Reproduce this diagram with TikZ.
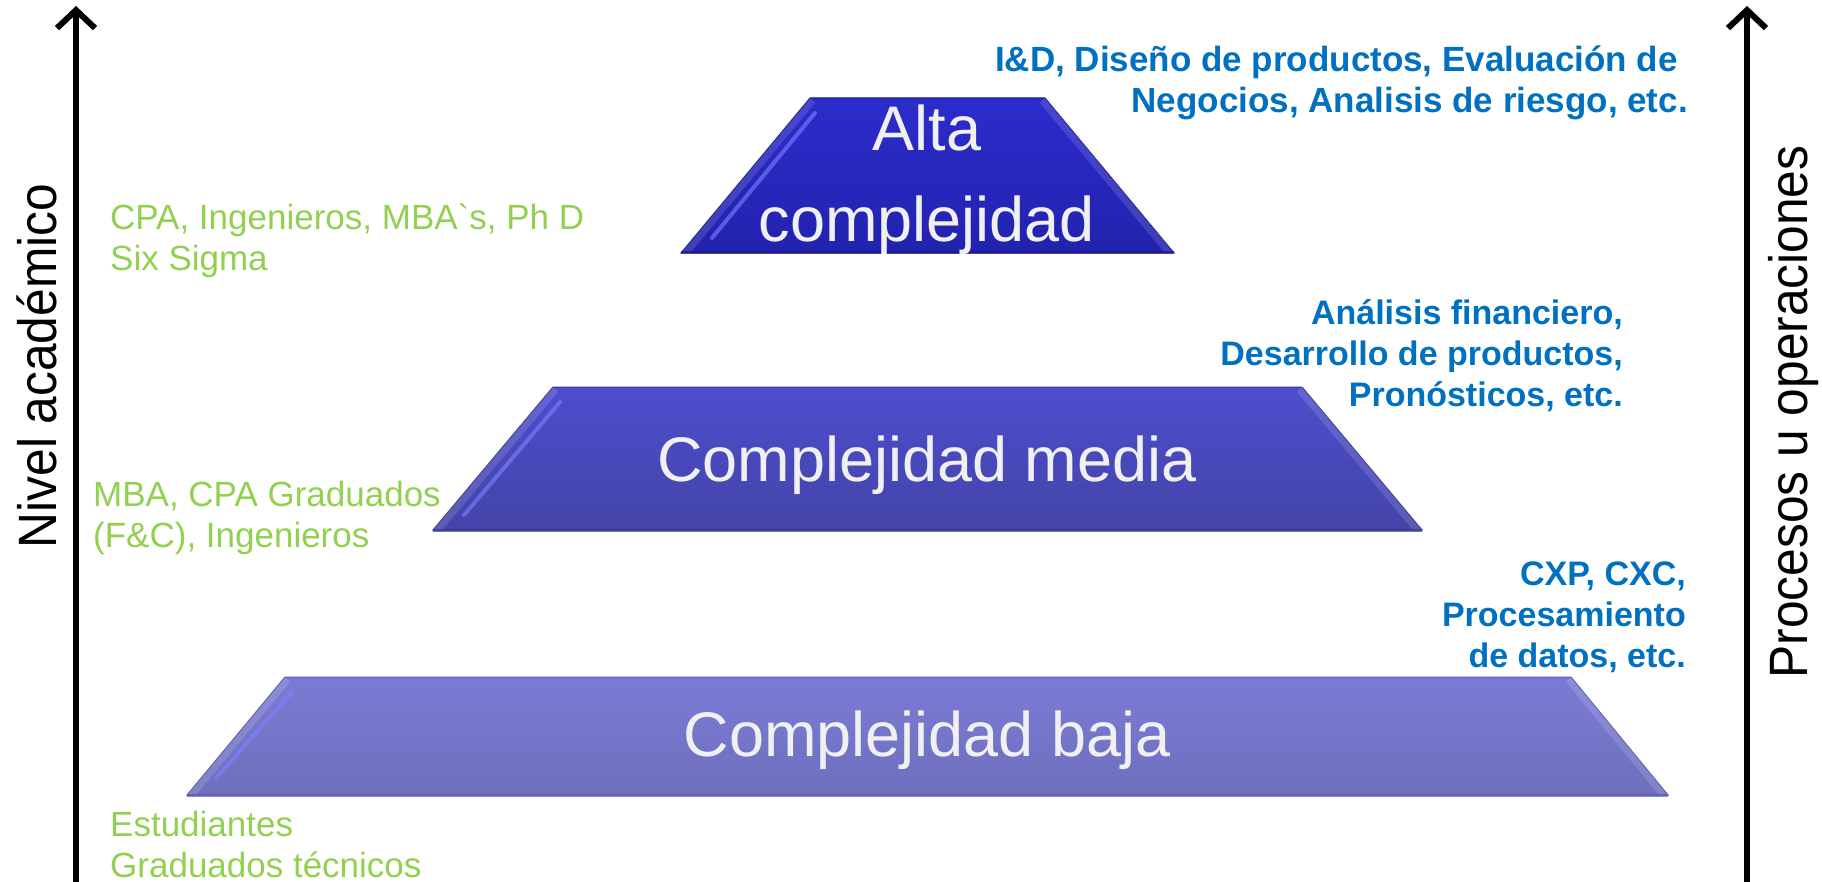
\documentclass[tikz,border=0pt]{standalone}
\usepackage{fontspec}
\setmainfont{Liberation Sans}
\newfontfamily\narrowfont[FakeStretch=0.92]{Liberation Sans}
\usetikzlibrary{arrows.meta}
\definecolor{greentxt}{HTML}{92D050}
\definecolor{bluetxt}{HTML}{0070C0}
\definecolor{tiertxt}{HTML}{F0F0F0}
\definecolor{tA1}{HTML}{2C2CCC}
\definecolor{tA2}{HTML}{2222AE}
\definecolor{tA3}{HTML}{1A1A88}
\definecolor{tB1}{HTML}{4D4DCF}
\definecolor{tB2}{HTML}{4444A8}
\definecolor{tB3}{HTML}{35358F}
\definecolor{tC1}{HTML}{7B7BD6}
\definecolor{tC2}{HTML}{6F6FBD}
\definecolor{tC3}{HTML}{5A5AA5}
\definecolor{shinecol}{HTML}{8080FF}
\begin{document}
\begin{tikzpicture}[x=1pt,y=-1pt,
  tierA/.style={top color=tA1,bottom color=tA2,draw=tA3,line width=1pt},
  tierB/.style={top color=tB1,bottom color=tB2,draw=tB3,line width=1pt},
  tierC/.style={top color=tC1,bottom color=tC2,draw=tC3,line width=1pt},
  band/.style={line width=14pt,white,opacity=0.13},
  shine/.style={line width=4pt,line cap=round,shinecol,opacity=0.6},
  baseline/.style={line width=3pt,opacity=0.7},
  tiertext/.style={text=tiertxt,font=\fontsize{63}{91}\selectfont,inner sep=0pt},
  acad/.style={text=greentxt,font=\fontsize{35}{41}\selectfont,align=left,inner sep=0pt,anchor=north west},
  ops/.style={text=bluetxt,font=\bfseries\fontsize{34}{41}\selectfont,align=right,inner sep=0pt,anchor=north east},
  axisline/.style={line width=6pt,-{Straight Barb[length=18pt,width=38pt]}},
  axislabel/.style={font=\narrowfont\fontsize{54}{60}\selectfont,rotate=90,anchor=base,inner sep=0pt}
]
\useasboundingbox (0,0) rectangle (1822,882);

% ---- tier A (top)
\path[tierA] (810,98) -- (1045,98) -- (1174,253) -- (681,253) -- cycle;
\begin{scope}
  \clip (810,98) -- (1045,98) -- (1174,253) -- (681,253) -- cycle;
  \draw[band] (1045,98) -- (1174,253);
  \draw[band] (810,98) -- (681,253);
\end{scope}
\draw[shine] (815,113) -- (712,238);
\draw[baseline,color=tA3] (681,253) -- (1174,253);

% ---- tier B (middle)
\path[tierB] (553,387) -- (1302,387) -- (1422,530) -- (433,530) -- cycle;
\begin{scope}
  \clip (553,387) -- (1302,387) -- (1422,530) -- (433,530) -- cycle;
  \draw[band] (1302,387) -- (1422,530);
  \draw[band] (553,387) -- (433,530);
\end{scope}
\draw[shine] (560,402) -- (464,515);
\draw[baseline,color=tB3] (433,530) -- (1422,530);

% ---- tier C (bottom)
\path[tierC] (285,677) -- (1571,677) -- (1668,795) -- (187,795) -- cycle;
\begin{scope}
  \clip (285,677) -- (1571,677) -- (1668,795) -- (187,795) -- cycle;
  \draw[band] (1571,677) -- (1668,795);
  \draw[band] (285,677) -- (187,795);
\end{scope}
\draw[shine] (292,692) -- (216,778);
\draw[baseline,color=tC3] (187,795) -- (1668,795);

% ---- tier labels
\node[tiertext,align=center,anchor=north] (alta) at (927,105) {Alta\\complejidad};
\node[tiertext,anchor=base] (media) at (927,481) {Complejidad media};
\node[tiertext,anchor=base] (baja) at (927,756) {Complejidad baja};

% ---- academic levels (green)
\node[acad] (acadA) at (110,204) {CPA, Ingenieros, MBA\textasciigrave s, Ph D\\Six Sigma};
\node[acad] (acadB) at (93,481) {MBA, CPA Graduados\\(F\&C), Ingenieros};
\node[acad] (acadC) at (110,811) {Estudiantes\\Graduados técnicos};

% ---- operations (blue)
\node[ops,font=\bfseries\fontsize{35}{41}\selectfont] (opsA) at (1688,46) {I\&D, Diseño de productos, Evaluación de\hspace*{10pt}\\Negocios, Analisis de riesgo, etc.};
\node[ops] (opsB) at (1623,299) {Análisis financiero,\\Desarrollo de productos,\\Pronósticos, etc.};
\node[ops] (opsC) at (1686,562) {CXP, CXC,\\Procesamiento\\de datos, etc.};

% ---- axes
\coordinate (L0) at (76,882);
\coordinate (L1) at (76,6);
\coordinate (R0) at (1747,882);
\coordinate (R1) at (1747,6);
\draw[axisline] (L0) -- (L1);
\draw[axisline] (R0) -- (R1);
\node[axislabel] (nivel) at (56,366) {Nivel académico};
\node[axislabel] (procesos) at (1807,412) {Procesos u operaciones};
\end{tikzpicture}
\end{document}
